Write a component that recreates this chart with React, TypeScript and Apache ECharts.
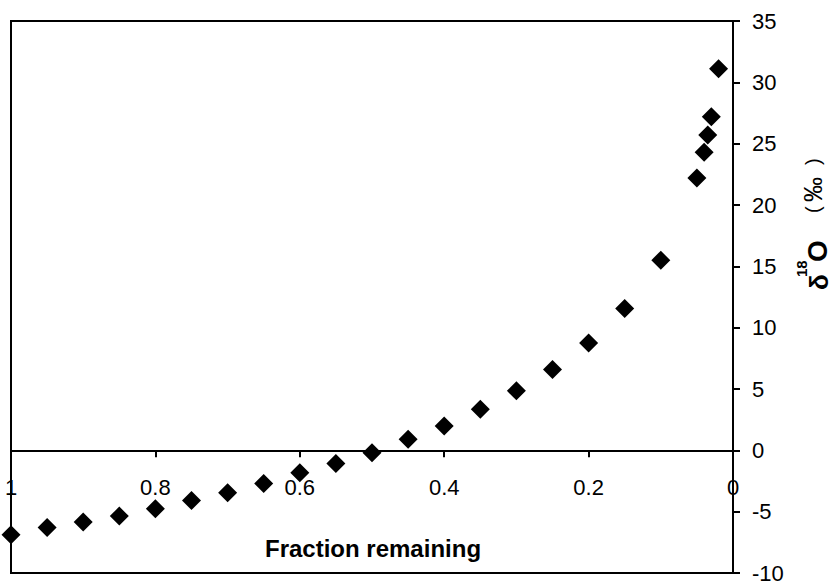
import React, { useEffect, useRef } from "react";
import * as echarts from "echarts";

const fractionRemaining = [1, 0.95, 0.9, 0.85, 0.8, 0.75, 0.7, 0.65, 0.6, 0.55, 0.5, 0.45, 0.4, 0.35, 0.3, 0.25, 0.2, 0.15, 0.1, 0.05, 0.04, 0.035, 0.03, 0.02];
const delta18O = [-6.88, -6.3, -5.85, -5.36, -4.76, -4.08, -3.45, -2.7, -1.82, -1.08, -0.2, 0.9, 1.98, 3.34, 4.85, 6.58, 8.75, 11.56, 15.5, 22.2, 24.3, 25.7, 27.2, 31.1];
const xTickLabels: Record<string, string> = { "0": "0", "0.2": "0.2", "0.4": "0.4", "0.6": "0.6", "0.8": "0.8", "1": "1" };
const xAxisTitle = "Fraction remaining";
const yMin = -10;
const yMax = 35;

export default function App() {
  const ref = useRef<HTMLDivElement>(null);
  useEffect(() => {
    if (!ref.current) return;
    const chart = echarts.init(ref.current, null, { renderer: "svg" });
    const font = "Liberation Sans, Arial, sans-serif";
    const W = 833, H = 581;
    const gTop = 21, gBottom = 8;
    const gH = H - gTop - gBottom;
    // place x axis at y = 0 of the value axis
    const zeroOffset = -gH * (0 - yMin) / (yMax - yMin);
    chart.setOption({
      animation: false,
      backgroundColor: "#fff",
      grid: {
        left: 11,
        right: 100,
        top: gTop,
        bottom: gBottom,
        show: true,
        borderColor: "#000",
        borderWidth: 2,
        containLabel: false,
        outerBoundsMode: "none",
      },
      xAxis: {
        type: "value",
        inverse: true,
        min: 0,
        max: 1,
        interval: 0.2,
        position: "bottom",
        offset: zeroOffset,
        axisLine: { show: true, onZero: false, lineStyle: { color: "#000", width: 2 } },
        axisTick: { show: true, inside: false, length: 7, lineStyle: { color: "#000", width: 2 } },
        axisLabel: {
          margin: 26,
          color: "#000",
          fontSize: 22,
          fontFamily: font,
          formatter: (v: number) => xTickLabels[String(Math.round(v * 10) / 10)] ?? String(v),
        },
        splitLine: { show: false },
      },
      yAxis: {
        type: "value",
        position: "right",
        min: yMin,
        max: yMax,
        interval: 5,
        axisLine: { show: true, onZero: false, lineStyle: { color: "#000", width: 2 } },
        axisTick: { show: true, inside: false, length: 7, lineStyle: { color: "#000", width: 2 } },
        axisLabel: { margin: 19, color: "#000", fontSize: 22, fontFamily: font },
        splitLine: { show: false },
      },
      series: [
        {
          type: "scatter",
          symbol: "diamond",
          symbolSize: 19,
          itemStyle: { color: "#000", opacity: 1 },
          data: fractionRemaining.map((f, i) => [f, delta18O[i]]),
          z: 5,
        },
      ],
      graphic: [
        {
          type: "text",
          left: 265,
          top: 536,
          style: { text: xAxisTitle, fontSize: 24, fontWeight: "bold", fontFamily: font, fill: "#000" },
        },
        {
          type: "group",
          x: 817,
          y: 290,
          rotation: Math.PI / 2,
          children: [
            { type: "text", x: 0, y: 2, style: { text: "δ", fontSize: 26, fontWeight: "bold", fontFamily: font, fill: "#000", verticalAlign: "middle", align: "left" } },
            { type: "text", x: 13, y: -16, style: { text: "18", fontSize: 15, fontWeight: "bold", fontFamily: font, fill: "#000", verticalAlign: "middle", align: "left" } },
            { type: "text", x: 28, y: 0, style: { text: "O", fontSize: 28, fontWeight: "bold", fontFamily: font, fill: "#000", verticalAlign: "middle", align: "left" } },
            { type: "text", x: 77, y: -4, style: { text: "(", fontSize: 20, fontFamily: font, fill: "#000", verticalAlign: "middle", align: "left" } },
            { type: "text", x: 88, y: -4, style: { text: "‰", fontSize: 25, fontFamily: font, fill: "#000", verticalAlign: "middle", align: "left" } },
            { type: "text", x: 125, y: -4, style: { text: ")", fontSize: 20, fontFamily: font, fill: "#000", verticalAlign: "middle", align: "left" } },
          ],
        },
      ],
    });
    return () => chart.dispose();
  }, []);
  return <div ref={ref} style={{ width: 833, height: 581, position: "absolute", left: 0, top: 0 }} />;
}
